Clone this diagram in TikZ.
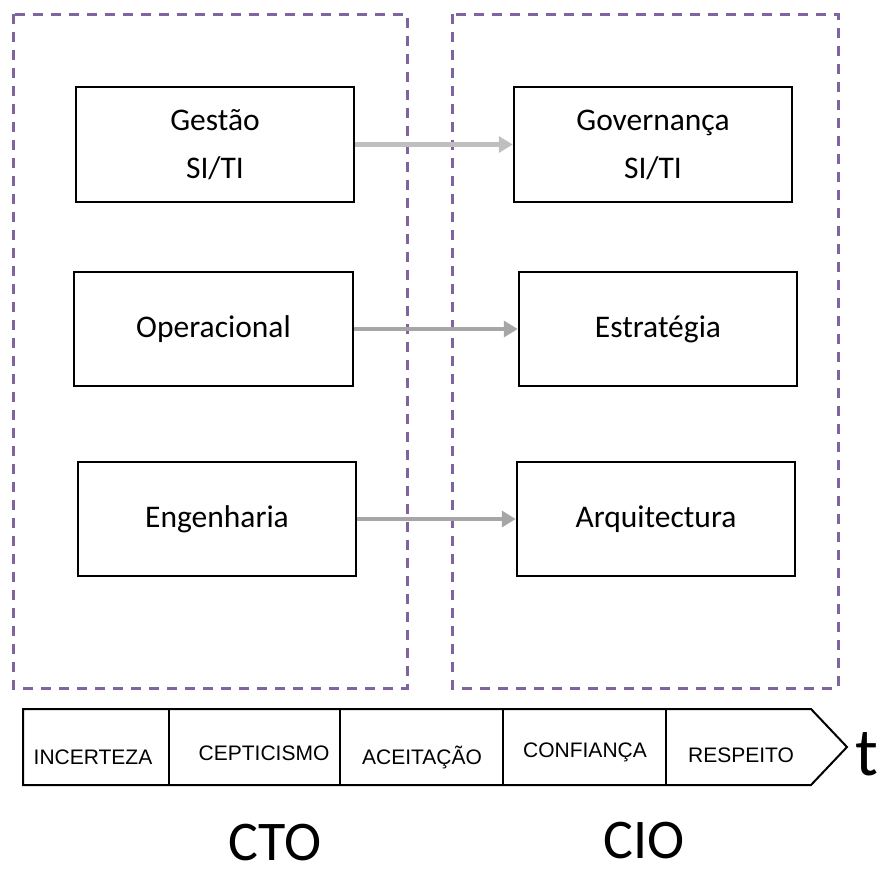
\documentclass[tikz,border=0pt]{standalone}
\usepackage{fontspec}
\setmainfont{Carlito}
\newfontfamily\arialf{Liberation Sans}
\usetikzlibrary{arrows.meta}
\definecolor{framepurple}{HTML}{8064A2}
\definecolor{lightarrow}{HTML}{BFBFBF}
\definecolor{midarrow}{HTML}{A6A6A6}
\tikzset{
  frame/.style={draw=framepurple, line width=3pt, dash pattern=on 10pt off 8pt},
  rolebox/.style={draw=black, line width=2.5pt, fill=white, minimum width=278pt, minimum height=115pt,
    inner sep=0pt, align=center, font=\fontsize{31.5}{48}\selectfont},
  flow/.style={line width=4.5pt, -{Triangle[length=14pt,width=16pt]}},
  barlabel/.style={font=\arialf\fontsize{21}{24}\selectfont, inner sep=0pt},
  biglabel/.style={font=\fontsize{56}{60}\selectfont, inner sep=0pt}
}
\begin{document}
\begin{tikzpicture}[x=1pt,y=-1pt]
\useasboundingbox (0,0) rectangle (887,876);
% dashed frames
\draw[frame] (13,14) rectangle (407,688);
\draw[frame] (452,14) rectangle (838,688);
% boxes
\node[rolebox] (gestao) at (215,144.5) {Gestão\\SI/TI};
\node[rolebox] (gov) at (653,144.5) {Governança\\SI/TI};
\node[rolebox, minimum width=279pt, minimum height=114pt] (oper) at (213.5,329) {Operacional};
\node[rolebox, minimum height=114pt] (estr) at (658,329) {Estratégia};
\node[rolebox, minimum height=114pt] (eng) at (217,519) {Engenharia};
\node[rolebox, minimum height=114pt] (arq) at (656,519) {Arquitectura};
% arrows
\draw[flow, draw=lightarrow, lightarrow] (gestao.east) -- (gov.west);
\draw[flow, draw=midarrow, midarrow] (oper.east) -- (estr.west);
\draw[flow, draw=midarrow, midarrow] (eng.east) -- (arq.west);
% timeline bar
\coordinate (b1) at (23,709);
\coordinate (b2) at (811,709);
\coordinate (b3) at (847,747);
\coordinate (b4) at (811,785);
\coordinate (b5) at (23,785);
\draw[line width=2pt, line join=miter] (b1) -- (b2) -- (b3) -- (b4) -- (b5) -- cycle;
\foreach \xx/\nm in {169/d1,340/d2,503/d3,666/d4}{
  \coordinate (\nm t) at (\xx,709);
  \coordinate (\nm b) at (\xx,785);
  \draw[line width=2pt] (\nm t) -- (\nm b);
}
\node[barlabel] (inc) at (93,757) {INCERTEZA};
\node[barlabel] (cep) at (264,753) {CEPTICISMO};
\node[barlabel] (ace) at (422,757) {ACEITAÇÃO};
\node[barlabel] (con) at (585,752) {CONFIANÇA};
\node[barlabel] (res) at (741,755) {RESPEITO};
\node[font=\fontsize{68}{72}\selectfont, inner sep=0pt, anchor=base west] (t) at (855,775) {t};
\node[biglabel] (cto) at (275,843) {CTO};
\node[biglabel] (cio) at (644,841) {CIO};
\end{tikzpicture}
\end{document}
